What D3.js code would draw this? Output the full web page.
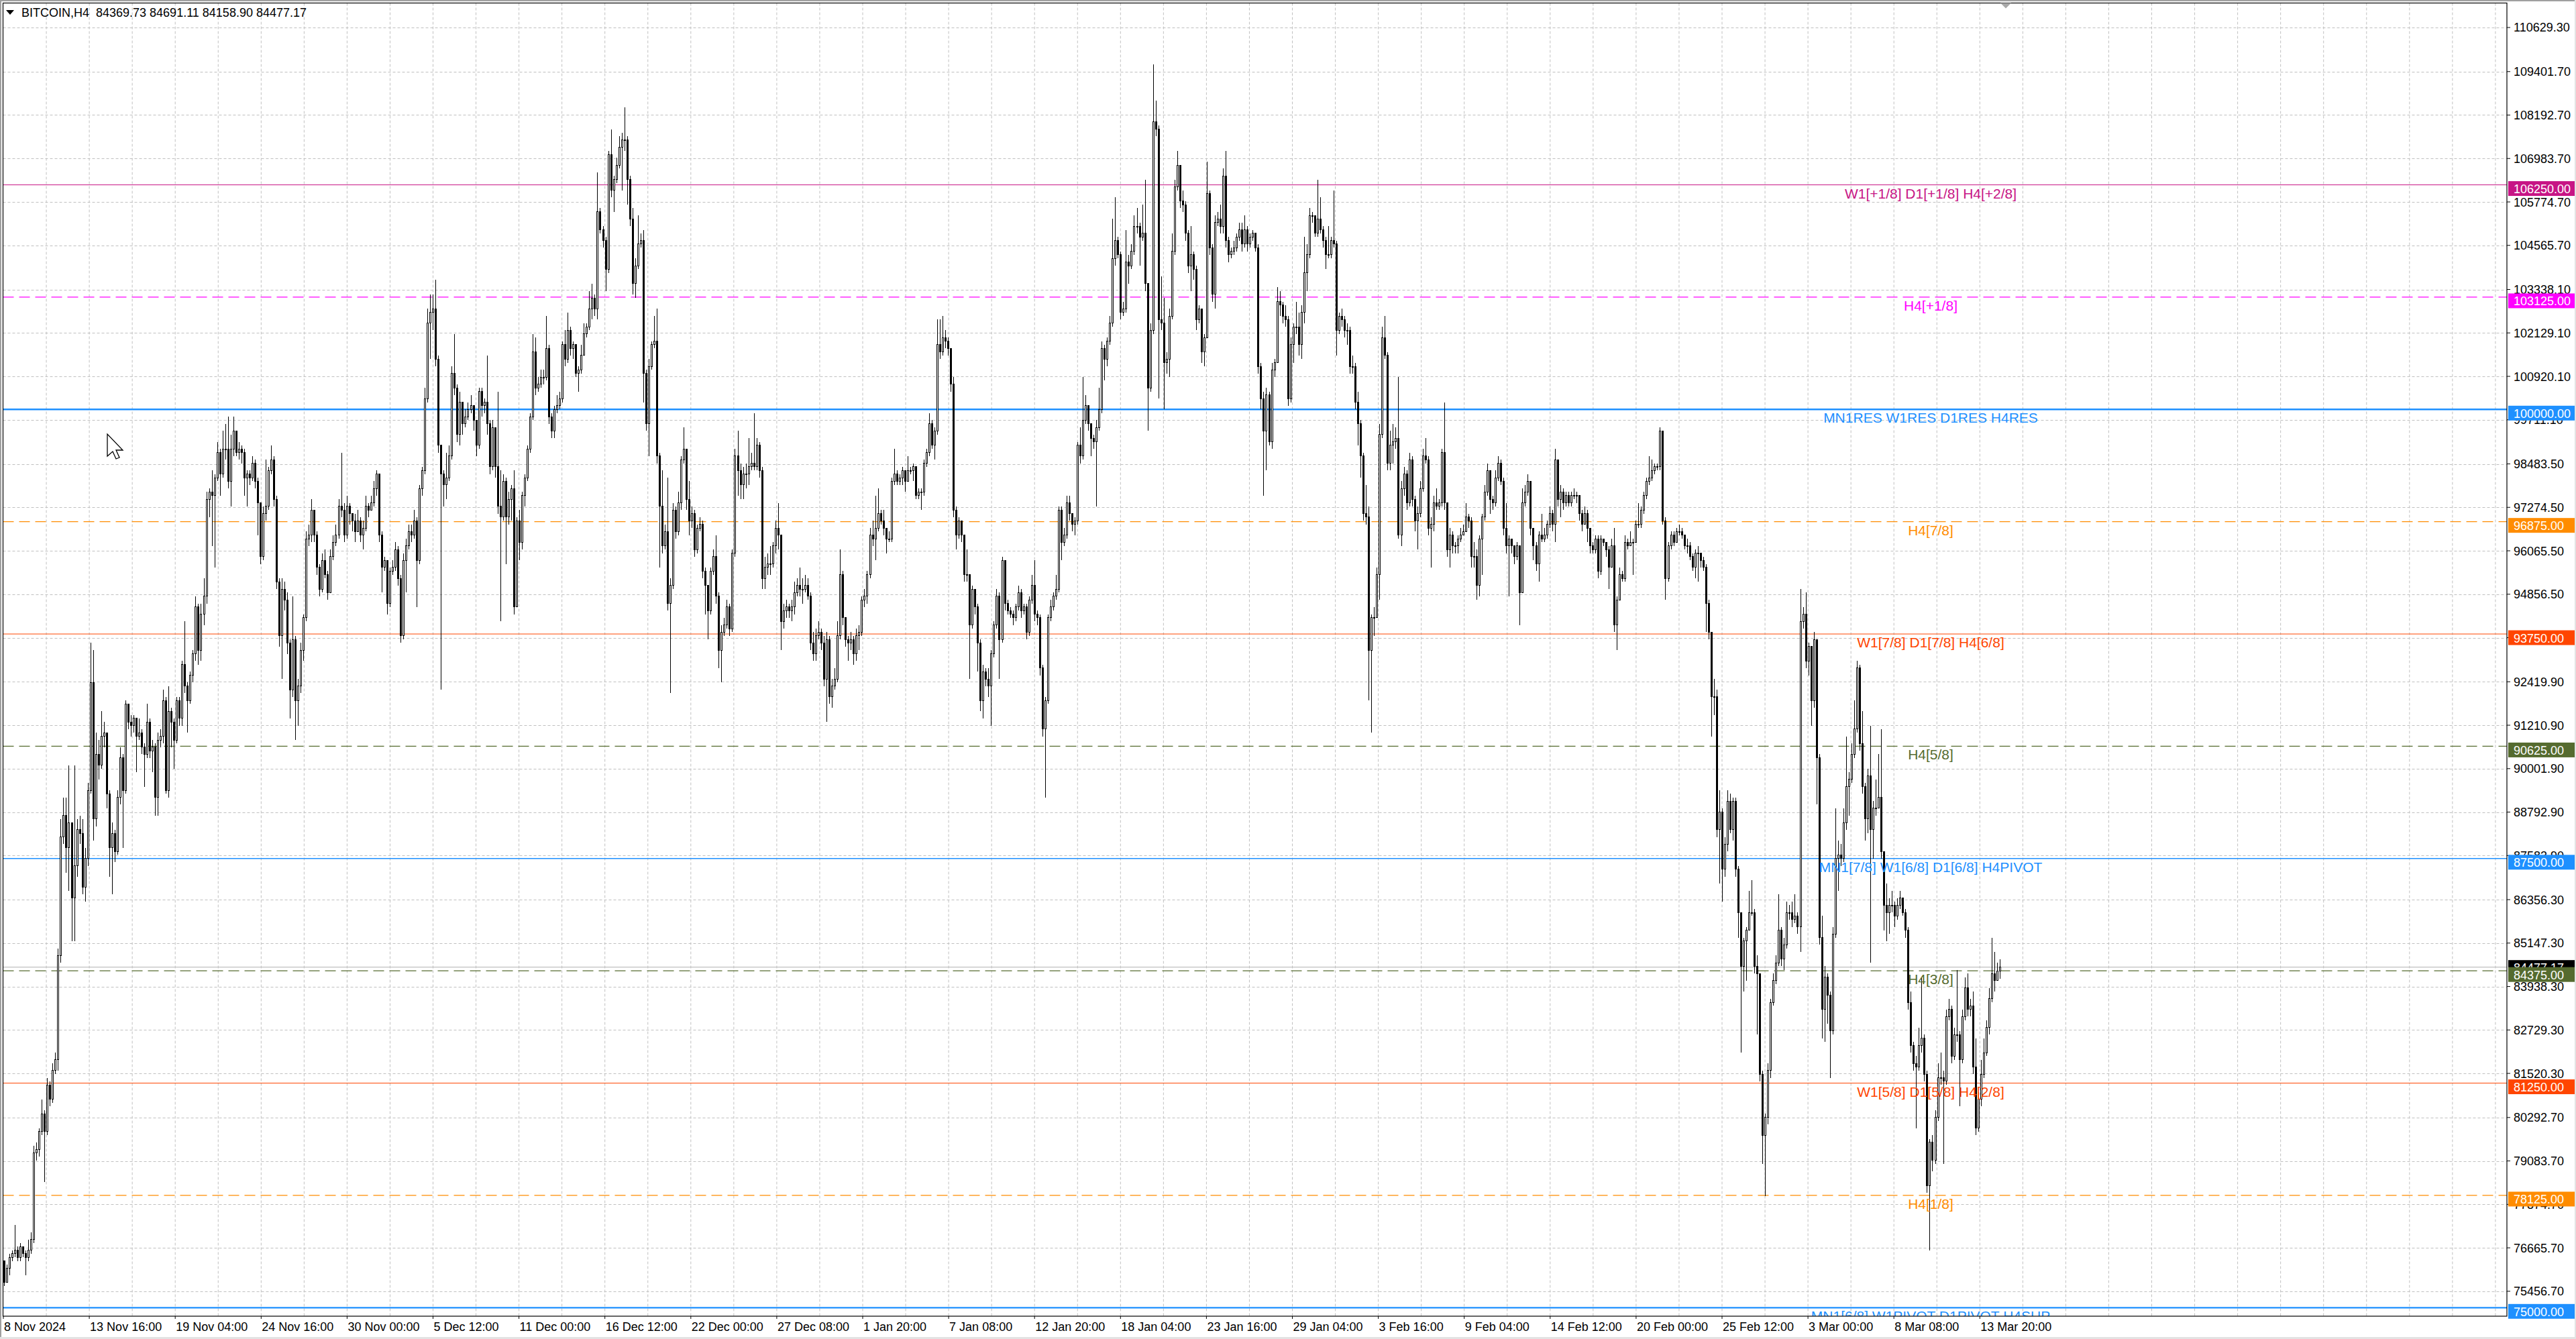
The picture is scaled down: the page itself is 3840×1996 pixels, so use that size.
<!DOCTYPE html>
<html>
<head>
<meta charset="utf-8">
<script src="https://cdn.jsdelivr.net/npm/d3@7"></script>
<style>
  html, body { margin: 0; padding: 0; background: #fff; }
  svg { display: block; }
  text { font-family: "Liberation Sans", Arial, sans-serif; }
</style>
</head>
<body>
<div id="chart"></div>
<script>
// BITCOIN H4 candles, prices in thousands of USD (open = previous close)
var symbol = "BITCOIN,H4";
var firstOpen = 76.3;

var closes = [
  75.7,76.1,76.4,76.5,76.6,76.4,76.7,76.5,76.4,76.6, 76.9,79.3,79.4,79.9,80.4,79.9,81.2,80.8,81.6,81.9,
  84.8,88.1,88.7,87.8,88.5,86.4,87.3,88.3,88.2,86.7, 87.5,89.4,92.4,88.6,90.4,90.1,90.9,91.0,89.3,87.8,
  88.2,87.7,89.2,90.3,89.4,91.8,91.3,91.2,91.4,90.9, 91.0,90.6,90.4,91.3,90.5,90.6,89.2,90.8,90.9,91.9,
  89.4,91.6,91.3,90.8,91.9,91.4,92.9,92.3,91.9,92.6, 93.2,94.5,93.3,94.3,94.8,97.5,97.7,97.6,98.1,98.8,
  98.2,98.9,98.9,98.0,98.9,99.4,98.8,98.9,98.8,98.1, 98.2,98.1,98.5,98.0,97.4,95.9,97.1,97.3,98.3,98.6,
  97.5,95.2,93.7,95.0,94.7,93.5,92.2,93.6,91.9,92.3, 93.3,94.2,96.4,96.5,97.2,96.5,95.6,95.0,95.8,95.4,
  94.9,95.9,96.3,96.5,97.3,97.2,96.5,97.3,97.1,96.9, 96.6,96.9,96.5,96.7,97.3,97.2,97.4,97.8,98.2,96.5,
  95.6,95.8,94.6,95.5,95.6,96.1,95.3,93.7,95.8,96.2, 96.6,96.5,96.9,95.8,97.8,98.3,100.3,
  102.4,102.7,102.8,101.4,99.0,98.2,97.9,98.1,98.7,101.0, 100.6,99.3,100.2,99.6,99.8,100.0,100.1,99.7,99.0,100.5,
  100.1,100.2,99.6,98.4,99.5,98.4,97.3,97.0,98.0,97.0, 97.5,97.8,94.5,96.9,96.3,97.6,98.1,98.9,99.8,101.6,
  100.6,100.7,100.9,100.9,101.7,99.8,99.4,100.0,100.1,100.3, 101.8,101.4,102.2,101.7,101.8,101.0,101.1,101.5,102.1,102.3,
  102.8,103.1,102.8,105.5,105.0,104.7,103.9,107.1,106.1,106.4, 106.8,107.3,107.5,107.5,106.4,105.3,103.5,104.0,104.6,104.7,
  101.0,99.6,101.2,101.8,101.9,98.7,97.3,96.2,96.6,94.6, 95.1,97.2,96.6,97.4,98.6,98.9,97.5,96.9,97.1,96.1,
  96.7,96.8,95.5,95.1,94.4,95.5,95.9,94.8,93.3,93.8, 94.0,94.5,93.9,96.0,98.7,98.3,97.9,98.2,98.2,98.4,
  98.5,98.4,99.0,98.3,95.3,95.6,95.7,95.7,96.2,96.7, 96.5,94.1,94.4,94.5,94.4,94.5,94.9,95.1,95.0,95.0,
  95.1,94.8,93.5,93.2,93.7,93.8,93.5,92.5,93.6,92.0, 92.3,92.5,93.7,95.4,94.2,93.6,93.5,93.6,93.2,93.7,
  93.8,94.7,94.8,95.4,96.5,96.4,96.7,97.1,96.9,96.7, 96.4,96.4,98.0,98.2,98.0,98.1,98.3,98.0,98.3,98.3,
  98.4,97.6,97.7,97.7,98.5,98.8,99.6,99.0,99.4,101.8, 101.6,102.0,101.9,101.7,100.7,97.2,96.5,96.9,96.5,95.4,
  95.4,94.0,95.0,94.5,93.5,91.9,92.7,92.5,92.3,93.2, 94.0,94.8,93.6,95.8,94.6,94.4,94.3,94.2,94.5,94.9,
  94.4,94.5,93.8,94.7,95.1,94.3,94.2,92.8,91.1,91.9, 94.2,94.5,94.8,95.0,97.2,96.3,96.5,97.4,97.1,96.8,
  96.9,99.0,98.7,99.7,100.1,99.6,99.2,99.1,99.5,100.0, 101.7,101.4,101.9,102.4,104.2,104.7,104.3,102.7,102.8,104.1,
  104.0,104.4,105.1,105.1,104.8,104.9,103.5,100.6,102.2,108.0, 107.8,102.5,102.4,101.3,101.4,102.6,104.4,106.2,106.8,105.8,
  105.7,104.9,104.0,104.3,103.9,102.5,102.8,101.6,102.0,106.0, 104.5,103.2,105.2,105.3,105.1,106.5,104.7,104.3,104.4,104.5,
  104.8,105.0,104.6,105.0,104.6,104.8,104.9,104.5,101.2,100.3, 99.4,100.4,99.1,101.1,101.3,103.0,102.9,102.6,102.5,100.3,
  101.8,102.3,102.3,101.8,102.7,103.8,104.3,105.4,105.4,104.9, 105.3,105.0,104.7,104.3,104.3,104.7,104.6,102.2,102.6,102.5,
  102.2,102.2,101.2,101.2,100.2,99.6,98.7,97.1,97.0,93.3, 94.2,94.2,95.4,99.3,102.0,101.5,98.5,99.0,99.1,99.2,
  96.5,97.8,98.2,97.4,98.6,97.5,96.9,97.1,97.8,98.7, 98.6,96.7,96.8,97.4,97.3,97.4,98.8,97.4,96.1,96.5,
  96.2,96.2,96.4,96.5,96.6,97.0,96.9,95.9,95.9,95.1, 96.4,97.0,97.7,98.3,97.5,97.4,98.1,98.5,98.0,96.7,
  96.2,96.4,96.2,95.9,96.2,94.9,97.4,97.7,98.0,96.7, 96.2,95.7,96.5,96.4,96.5,96.8,97.1,96.8,98.6,97.5,
  97.7,97.4,97.6,97.4,97.6,97.6,97.6,97.1,96.8,97.1, 96.7,96.2,96.1,96.4,95.5,96.4,96.3,96.1,95.6,96.2,
  94.0,94.7,95.4,95.3,96.3,96.2,96.3,96.3,96.8,96.8, 97.2,97.6,98.0,98.1,98.3,98.4,98.4,99.4,96.9,95.3,
  96.2,96.5,96.3,96.6,96.6,96.5,96.2,96.2,95.9,95.6, 96.0,96.0,95.8,95.6,94.6,93.8,92.0,92.0,
  88.3,88.8,87.2,87.9,89.1,88.3,89.1,87.2,86.0,84.5, 85.2,85.5,86.0,86.0,84.5,84.3,81.5,79.8,80.3,81.6,
  83.5,84.1,84.6,85.5,84.7,85.1,86.0,86.0,85.8,85.9, 85.6,94.1,94.3,93.0,93.4,91.9,93.6,90.3,85.3,83.3,
  84.2,83.7,82.7,85.4,87.5,87.6,87.5,88.5,89.5,89.7, 90.4,91.1,92.8,90.7,89.5,88.6,89.8,88.3,88.9,88.9,
  89.2,87.7,86.2,86.0,86.2,86.2,85.9,86.2,86.4,86.0, 85.5,83.5,82.3,81.8,81.7,82.3,82.5,81.5,78.4,79.6,
  79.1,80.3,81.4,81.4,81.3,83.1,83.3,82.0,82.6,82.6, 81.9,83.1,83.9,83.3,83.4,81.7,80.0,80.8,81.5,82.1,
  82.8,83.6,84.3,84.1,84.36973,84.47717
];

var highs = [
  76.3,76.2,76.5,76.6,77.3,76.7,76.8,76.7,76.6,76.9, 77.1,79.5,79.6,80.0,80.8,80.5,81.4,81.3,81.8,82.1,
  85.0,88.6,89.2,89.2,90.1,88.2,90.1,88.6,88.7,88.6, 87.8,89.6,93.5,93.3,91.0,90.8,91.6,91.3,91.0,89.4,
  88.5,88.3,89.4,90.6,90.4,91.9,91.7,91.5,91.5,91.2, 91.4,91.1,90.7,91.8,91.4,90.8,90.7,91.0,91.1,92.2,
  92.0,92.3,91.7,91.4,92.0,92.0,93.0,94.1,92.4,92.7, 93.3,94.8,94.6,94.6,95.3,97.7,97.8,98.3,98.2,99.1,
  98.9,99.4,99.6,99.8,99.3,99.8,99.4,99.1,99.0,98.9, 98.3,98.3,98.7,98.6,98.1,97.4,97.3,98.6,98.4,99.0,
  98.7,97.6,95.3,95.3,95.2,94.9,93.6,94.8,93.7,92.5, 93.5,94.3,96.6,96.8,97.5,97.0,96.6,95.7,96.0,96.1,
  95.5,96.1,96.5,96.8,97.5,98.8,97.4,97.6,97.4,97.1, 97.1,97.2,97.0,96.9,97.6,97.4,97.6,98.0,98.3,98.2,
  96.6,95.9,95.8,95.6,95.8,96.3,96.2,95.4,96.0,96.4, 96.8,96.8,97.2,97.0,97.9,98.4,100.6,
  102.8,103.2,103.2,103.6,101.5,99.0,98.3,98.8,99.0,101.2, 102.1,100.7,100.5,100.2,100.0,100.2,100.4,100.1,99.7,100.6,
  100.6,100.3,101.5,99.7,99.7,99.5,100.5,98.3,98.2,98.1, 97.7,97.9,98.3,97.0,97.2,97.7,98.2,99.0,99.9,102.1,
  102.0,100.9,101.1,101.1,102.6,101.8,99.9,100.1,100.4,100.5, 101.9,102.2,102.7,102.3,101.9,101.3,101.2,101.8,102.4,102.4,
  103.3,103.5,103.2,106.6,105.6,105.1,104.8,107.2,107.8,106.5, 107.0,107.6,107.7,108.4,107.6,106.5,105.6,104.2,105.4,104.9,
  105.0,101.1,101.4,101.9,102.6,102.8,98.8,98.3,96.8,98.1, 95.3,97.4,97.3,97.7,98.7,99.5,98.9,98.0,97.3,97.2,
  96.8,97.0,96.9,95.6,95.1,95.6,96.1,96.5,94.9,94.0, 94.2,94.7,94.6,96.1,98.9,99.4,98.5,98.4,98.5,99.2,
  98.8,99.9,99.2,99.1,98.4,95.9,96.0,96.2,96.3,96.9, 97.4,96.5,94.6,94.7,94.6,94.7,95.2,95.3,95.6,95.3,
  95.4,95.3,94.9,93.8,93.9,94.1,93.9,93.7,93.8,93.7, 92.5,92.8,94.1,96.1,95.5,94.2,93.7,93.8,93.7,93.9,
  94.0,94.8,95.0,95.5,96.7,96.9,97.6,97.8,97.2,97.2, 96.7,96.6,98.1,98.9,98.3,98.2,98.4,98.3,98.7,98.4,
  98.5,98.4,97.8,97.8,98.6,98.9,99.9,99.7,99.5,102.5, 102.5,102.6,102.2,102.0,101.7,100.9,97.3,97.0,96.9,96.5,
  96.1,95.4,95.1,95.0,94.6,93.6,92.9,92.8,92.8,93.3, 94.1,95.0,94.9,95.9,95.8,94.7,94.5,94.4,94.6,95.1,
  95.0,94.6,94.6,94.8,95.4,95.8,94.4,94.3,92.9,92.0, 94.3,94.7,94.9,95.4,97.3,97.3,96.7,97.6,97.6,97.1,
  97.0,99.1,99.5,100.9,100.4,100.1,99.6,99.3,99.7,100.6, 101.9,101.8,102.0,102.6,105.3,105.9,104.8,104.4,103.0,105.0,
  104.3,104.6,105.4,105.6,105.2,105.7,106.4,103.2,102.4,109.6, 108.6,107.9,103.7,103.1,101.6,102.8,104.9,106.4,107.2,106.8,
  106.1,105.8,105.0,105.1,104.4,104.0,102.9,102.6,102.1,106.9, 106.1,104.6,105.4,105.5,105.7,106.7,107.2,104.8,104.5,104.7,
  104.9,105.2,105.2,105.4,105.1,104.9,105.0,104.9,104.6,101.3, 100.5,100.6,100.5,101.3,101.4,103.4,103.3,103.0,102.9,102.6,
  102.0,102.4,103.0,102.7,102.9,104.8,104.6,105.6,105.5,105.4, 106.4,105.9,105.1,104.8,105.1,104.8,106.1,104.7,102.7,102.8,
  102.6,102.4,102.3,101.5,101.3,100.5,99.7,98.8,97.9,97.3, 94.3,94.5,95.6,99.6,102.3,102.6,101.6,99.4,99.6,99.5,
  100.9,98.0,98.4,98.3,98.8,98.7,97.6,97.3,98.0,98.9, 99.2,98.7,97.0,97.6,97.8,97.5,98.9,100.2,97.4,96.7,
  96.6,96.3,96.5,96.7,96.8,97.4,97.1,97.0,96.3,96.1, 96.5,97.1,97.9,98.5,98.3,97.6,98.3,98.7,98.6,98.1,
  97.4,96.5,96.4,96.2,96.3,96.2,97.8,97.9,98.2,98.0, 96.7,96.3,96.6,97.1,96.7,96.9,97.3,97.2,98.9,98.6,
  97.9,97.8,97.7,97.7,97.7,97.8,97.7,97.6,97.2,97.3, 97.2,96.7,96.3,96.5,96.5,96.5,96.4,96.3,96.2,96.4,
  96.7,94.8,95.6,95.5,96.5,96.4,96.6,96.4,96.9,97.4, 97.3,97.7,98.1,98.7,98.6,98.5,98.5,99.5,99.4,97.0,
  96.3,96.6,96.6,96.7,96.8,96.7,96.5,96.4,96.3,96.0, 96.1,96.2,96.0,95.9,95.7,94.7,93.7,92.5,
  92.2,89.4,88.9,88.1,89.4,89.3,89.2,89.2,87.3,86.0, 85.3,85.6,86.6,86.9,86.1,84.8,84.3,81.6,80.4,81.8,
  83.6,84.3,84.8,86.5,85.6,85.3,86.3,86.2,86.3,86.5, 86.0,95.0,94.5,94.9,93.5,93.4,93.8,93.6,90.4,85.9,
  84.5,84.3,83.8,85.6,88.9,88.0,87.9,88.9,90.9,89.9, 90.7,91.9,93.0,92.9,91.6,89.6,90.0,91.2,89.1,89.7,
  90.4,91.1,87.7,86.8,86.4,86.6,86.3,86.4,86.6,86.4, 86.1,85.6,83.8,82.4,82.0,82.8,84.2,82.6,81.6,79.7,
  79.8,80.5,81.8,82.1,81.6,83.3,83.6,83.4,82.8,84.4, 82.7,83.3,84.2,84.3,83.6,83.8,82.5,81.0,81.9,82.5,
  83.0,83.9,85.3,84.9,84.6,84.69111
];

var lows = [
  75.6,75.9,75.9,76.3,76.4,76.3,76.3,76.4,75.9,76.3, 76.5,76.8,79.1,79.2,79.8,78.5,79.8,80.6,80.7,81.5,
  81.6,84.6,87.9,87.1,86.6,85.2,85.2,87.0,87.9,86.5, 86.3,87.3,89.3,88.0,88.4,89.7,90.0,90.6,88.9,87.0,
  86.5,87.4,87.6,89.0,87.8,89.3,91.1,90.9,91.0,89.9, 90.8,90.4,89.5,90.3,90.3,89.9,88.7,88.7,90.6,90.7,
  89.3,89.2,90.6,90.0,90.7,91.2,91.2,92.1,91.0,91.8, 92.4,93.0,92.9,93.0,94.0,94.6,97.0,96.2,95.6,98.0,
  97.6,98.1,98.6,97.8,97.3,98.7,98.7,98.6,98.5,97.6, 97.3,97.9,98.0,97.8,96.5,95.7,95.8,96.9,97.2,98.2,
  97.3,95.0,93.4,92.5,94.4,93.2,91.4,92.0,90.8,91.2, 92.1,93.0,94.1,96.2,96.3,96.3,95.4,94.8,94.9,95.3,
  94.7,94.9,95.8,96.2,96.4,97.0,96.3,96.4,96.8,96.6, 96.3,96.6,96.3,96.1,96.6,97.0,97.2,97.3,97.6,96.3,
  94.9,95.5,94.3,94.5,95.4,95.5,95.1,93.5,93.6,94.9, 96.1,96.3,96.4,94.5,95.7,97.6,98.2,
  100.2,101.4,102.2,101.2,98.8,92.2,97.3,97.5,98.0,98.6, 100.4,99.1,99.0,99.3,99.5,99.7,99.9,99.4,98.7,98.9,
  99.8,99.9,99.3,98.2,98.3,98.1,97.1,94.1,96.9,95.7, 96.8,96.9,94.3,94.5,95.8,96.1,97.3,98.0,98.8,99.7,
  100.4,100.5,100.6,100.7,100.8,99.6,99.2,99.2,99.9,100.0, 100.2,101.2,101.3,101.5,101.4,100.9,100.5,101.0,101.6,102.0,
  102.2,102.5,102.6,102.5,104.9,104.5,103.3,103.8,105.9,105.5, 106.3,106.7,106.1,107.2,105.7,105.1,103.2,103.1,103.9,104.5,
  100.2,99.4,98.7,101.1,101.7,98.5,95.6,96.0,96.1,94.4, 92.1,95.0,96.4,96.5,97.2,98.5,97.2,96.5,96.7,95.9,
  96.0,96.6,95.3,94.3,93.6,94.3,95.4,94.6,92.8,92.4, 93.7,93.9,93.7,93.8,95.9,97.6,97.5,97.5,97.8,97.9,
  98.3,98.3,98.3,98.1,95.0,95.0,95.4,95.4,95.6,96.0, 96.1,93.3,93.9,94.2,94.2,94.1,94.3,94.8,94.8,94.6,
  94.9,94.7,93.3,93.0,93.0,93.6,93.3,92.3,91.3,91.8, 91.7,92.2,92.4,93.6,94.0,93.4,93.0,93.3,92.9,93.0,
  93.3,93.7,94.5,94.6,95.3,96.2,95.8,96.6,96.8,96.5, 96.0,96.3,96.3,97.9,97.9,97.9,97.9,97.7,98.0,98.2,
  98.0,97.5,97.5,97.2,97.6,98.4,98.7,98.9,98.6,99.3, 101.4,101.5,101.7,101.5,100.5,97.0,96.1,96.4,96.3,95.2,
  95.2,92.5,93.9,94.3,92.7,91.6,91.4,92.3,92.0,91.2, 93.1,93.9,92.5,93.5,94.4,94.3,94.2,94.0,94.1,94.4,
  94.2,94.3,93.6,93.7,94.6,94.1,94.0,92.6,90.9,89.2, 91.8,94.1,94.4,94.7,94.9,95.8,96.2,96.4,96.9,96.6,
  96.5,96.8,98.5,98.6,99.6,99.4,98.7,98.9,97.3,99.4, 99.9,100.8,101.2,101.8,102.3,104.0,104.2,102.5,102.6,102.7,
  103.5,103.9,104.3,104.9,104.0,104.7,103.3,99.4,100.5,102.1, 107.6,100.3,102.2,100.0,101.0,100.9,102.5,104.3,106.1,105.6,
  105.5,104.7,103.8,103.3,103.6,102.2,102.4,101.3,101.2,102.0, 104.3,103.0,102.8,105.1,104.9,104.9,104.5,104.1,104.2,104.3,
  104.4,104.7,104.4,104.5,104.4,104.5,104.7,104.4,101.0,100.0, 97.6,98.3,99.0,98.9,100.9,101.3,102.6,102.4,102.3,100.1,
  100.2,101.3,102.1,101.5,101.4,102.4,103.3,104.2,105.2,104.8, 104.8,104.9,104.5,103.9,104.2,104.2,104.5,101.5,102.1,102.3,
  102.0,101.8,101.0,101.0,100.0,99.0,98.1,96.9,96.8,91.9, 91.0,93.7,94.3,94.7,99.2,101.4,98.3,98.3,98.5,98.9,
  96.4,96.2,97.6,97.2,97.3,97.3,96.6,96.1,97.0,97.7, 98.5,96.5,95.6,96.6,97.2,97.2,97.3,97.2,95.9,95.6,
  96.0,96.0,96.0,96.3,96.5,96.6,96.7,95.6,95.6,94.7, 94.8,95.4,96.9,97.6,97.1,97.2,97.3,98.0,97.9,96.5,
  96.0,94.8,96.0,95.7,95.8,94.0,94.9,97.3,97.6,96.5, 95.8,95.5,95.2,96.3,96.3,96.4,96.7,96.6,96.3,97.3,
  97.0,97.2,97.3,97.3,97.3,97.5,97.4,96.9,96.6,96.8, 96.3,96.0,96.0,96.0,95.3,95.4,96.2,95.9,95.0,95.7,
  93.8,93.3,94.9,95.2,95.2,96.1,96.2,95.4,96.3,96.7, 96.7,97.1,97.5,97.9,98.0,98.2,98.3,98.3,96.8,94.7,
  95.2,96.1,96.2,96.3,96.5,96.4,96.1,96.0,95.8,95.5, 95.3,95.2,95.6,95.5,93.8,93.6,90.9,91.5,
  88.1,86.8,86.3,87.0,87.7,88.2,88.0,87.0,85.3,82.1, 83.8,84.1,85.6,85.9,84.3,82.6,81.3,79.0,78.1,80.1,
  81.4,83.4,84.0,84.5,84.5,84.4,85.0,85.8,85.6,85.7, 85.4,84.9,93.9,92.8,92.6,91.2,91.7,89.0,85.1,82.5,
  82.4,82.9,81.4,82.6,85.3,86.6,87.3,87.4,88.3,88.7, 89.6,90.3,91.0,90.5,89.3,88.0,88.2,84.6,87.5,88.7,
  88.9,87.5,85.5,85.2,85.4,86.0,85.6,85.8,86.1,85.9, 85.3,83.3,82.1,81.6,80.0,81.6,82.1,81.3,78.2,76.6,
  78.8,79.0,80.2,81.2,79.0,81.2,83.0,81.8,81.9,82.4, 80.6,81.8,83.0,83.1,83.1,81.5,79.8,79.9,80.6,81.4,
  82.0,82.6,83.5,83.8,84.2,84.1589
];

var timeLabels = ["8 Nov 2024", "13 Nov 16:00", "19 Nov 04:00", "24 Nov 16:00", "30 Nov 00:00",
  "5 Dec 12:00", "11 Dec 00:00", "16 Dec 12:00", "22 Dec 00:00", "27 Dec 08:00", "1 Jan 20:00",
  "7 Jan 08:00", "12 Jan 20:00", "18 Jan 04:00", "23 Jan 16:00", "29 Jan 04:00", "3 Feb 16:00",
  "9 Feb 04:00", "14 Feb 12:00", "20 Feb 00:00", "25 Feb 12:00", "3 Mar 00:00", "8 Mar 08:00", "13 Mar 20:00"];

var priceTicks = [110629.30, 109401.70, 108192.70, 106983.70, 105774.70, 104565.70, 103338.10,
  102129.10, 100920.10, 99711.10, 98483.50, 97274.50, 96065.50, 94856.50, 93647.50, 92419.90,
  91210.90, 90001.90, 88792.90, 87583.90, 86356.30, 85147.30, 83938.30, 82729.30, 81520.30,
  80292.70, 79083.70, 77874.70, 76665.70, 75456.70];

// Murrey math levels
var levelPrices = [106250, 103125, 100000, 96875, 93750, 90625, 87500, 84375, 81250, 78125, 75000];
var levelNames = ["W1[+1/8] D1[+1/8] H4[+2/8]", "H4[+1/8]", "MN1RES W1RES D1RES H4RES", "H4[7/8]",
  "W1[7/8] D1[7/8] H4[6/8]", "H4[5/8]", "MN1[7/8] W1[6/8] D1[6/8] H4PIVOT", "H4[3/8]",
  "W1[5/8] D1[5/8] H4[2/8]", "H4[1/8]", "MN1[6/8] W1PIVOT D1PIVOT H4SUP"];
var levelColors = ["#C71585", "#FF00FF", "#1E90FF", "#FF8C00", "#FF4500", "#556B2F",
  "#1E90FF", "#556B2F", "#FF4500", "#FF8C00", "#1E90FF"];
var levelDashed = [false, true, false, true, false, true, false, true, false, true, false];
var levelWidth = [1, 1.3, 2.5, 1.3, 1, 1.3, 1.6, 1.3, 1, 1.3, 2.2];

// ---- build bars ----
var n = Math.min(closes.length, highs.length, lows.length);
var bars = [];
for (var i = 0; i < n; i++) {
  var o = i === 0 ? firstOpen : closes[i - 1];
  var c = closes[i];
  bars.push({
    i: i,
    o: o * 1000,
    c: c * 1000,
    h: Math.max(highs[i], o, c) * 1000,
    l: Math.min(lows[i], o, c) * 1000
  });
}
var last = bars[bars.length - 1];

// ---- layout ----
var W = 3840, H = 1996;
var plotL = 4.5, plotT = 4.5, plotR = 3737, plotB = 1962;
var labelX = 2878;

var svg = d3.select("#chart").append("svg")
  .attr("width", W).attr("height", H);

svg.append("rect").attr("width", W).attr("height", H).attr("fill", "#fff");

var x = d3.scaleLinear().domain([0, bars.length - 1]).range([6, 2981]);
var y = d3.scaleLinear().domain([75000, 100000]).range([1949.3, 610.3]);
var xt = d3.scalePoint().domain(timeLabels).range([5, 5 + 128.1 * (timeLabels.length - 1)]);

svg.append("defs").append("clipPath").attr("id", "plotClip")
  .append("rect").attr("x", plotL).attr("y", plotT)
  .attr("width", plotR - plotL).attr("height", plotB - plotT);

var plot = svg.append("g").attr("clip-path", "url(#plotClip)");

// grid
var gridX = [];
var halfStep = xt.step() / 2;
for (var gx = xt(timeLabels[0]) + halfStep; gx < plotR; gx += halfStep) gridX.push(gx);

plot.append("g").selectAll("line").data(gridX).enter().append("line")
  .attr("x1", function (d) { return d; }).attr("x2", function (d) { return d; })
  .attr("y1", plotT).attr("y2", plotB)
  .attr("stroke", "#c0c0c0").attr("stroke-width", 1).attr("stroke-dasharray", "4,3");

plot.append("g").selectAll("line").data(priceTicks).enter().append("line")
  .attr("x1", plotL).attr("x2", plotR)
  .attr("y1", function (d) { return Math.round(y(d)) + 0.5; })
  .attr("y2", function (d) { return Math.round(y(d)) + 0.5; })
  .attr("stroke", "#c0c0c0").attr("stroke-width", 1).attr("stroke-dasharray", "4,3");

// current price line
plot.append("line")
  .attr("x1", plotL).attr("x2", plotR)
  .attr("y1", y(last.c)).attr("y2", y(last.c))
  .attr("stroke", "#c0c0c0").attr("stroke-width", 1.2);

// level lines + names
var levels = levelPrices.map(function (p, k) {
  return { p: p, name: levelNames[k], color: levelColors[k], dashed: levelDashed[k], w: levelWidth[k] };
});

plot.append("g").selectAll("line").data(levels).enter().append("line")
  .attr("x1", plotL).attr("x2", plotR)
  .attr("y1", function (d) { return y(d.p); }).attr("y2", function (d) { return y(d.p); })
  .attr("stroke", function (d) { return d.color; })
  .attr("stroke-width", function (d) { return d.w; })
  .attr("stroke-dasharray", function (d) { return d.dashed ? "16,8" : null; });

// candles
var candles = plot.append("g").attr("class", "candles").attr("shape-rendering", "crispEdges");

candles.selectAll("line").data(bars).enter().append("line")
  .attr("x1", function (d) { return Math.round(x(d.i)) + 0.5; })
  .attr("x2", function (d) { return Math.round(x(d.i)) + 0.5; })
  .attr("y1", function (d) { return y(d.h); })
  .attr("y2", function (d) { return y(d.l); })
  .attr("stroke", "#000").attr("stroke-width", 1);

candles.selectAll("rect").data(bars).enter().append("rect")
  .attr("x", function (d) { return Math.round(x(d.i)) - 0.5; })
  .attr("width", 2)
  .attr("y", function (d) { return y(Math.max(d.o, d.c)); })
  .attr("height", function (d) { return Math.max(1, Math.abs(y(d.o) - y(d.c))); })
  .attr("fill", function (d) { return d.c >= d.o ? "#fff" : "#000"; })
  .attr("stroke", "#000").attr("stroke-width", 1);

// level names (drawn over candles, clipped to plot)
plot.append("g").selectAll("text").data(levels).enter().append("text")
  .attr("x", labelX)
  .attr("y", function (d) { return y(d.p) + 20; })
  .attr("text-anchor", "middle")
  .attr("font-size", 21)
  .attr("fill", function (d) { return d.color; })
  .text(function (d) { return d.name; });

// mouse cursor left on the chart
plot.append("path")
  .attr("d", "M0,0 L0,33 L8,26 L13,37 L18,35 L13,24 L23,24 Z")
  .attr("transform", "translate(160,647)")
  .attr("fill", "#fff").attr("stroke", "#000").attr("stroke-width", 1.3);

// plot frame
svg.append("rect")
  .attr("x", plotL).attr("y", plotT)
  .attr("width", plotR - plotL).attr("height", plotB - plotT)
  .attr("fill", "none").attr("stroke", "#000").attr("stroke-width", 1.2);

// chart shift marker
var shiftX = x(bars.length - 1) + 9;
svg.append("path")
  .attr("d", "M" + (shiftX - 8) + "," + plotT + " L" + (shiftX + 8) + "," + plotT + " L" + shiftX + "," + (plotT + 8) + " Z")
  .attr("fill", "#a8a8a8");

// price axis
var axisG = svg.append("g");
axisG.selectAll("line").data(priceTicks).enter().append("line")
  .attr("x1", plotR).attr("x2", plotR + 5)
  .attr("y1", function (d) { return y(d); }).attr("y2", function (d) { return y(d); })
  .attr("stroke", "#000").attr("stroke-width", 1);
axisG.selectAll("text").data(priceTicks).enter().append("text")
  .attr("x", plotR + 10)
  .attr("y", function (d) { return y(d) + 6.5; })
  .attr("font-size", 18).attr("fill", "#000")
  .text(function (d) { return d.toFixed(2); });

// current price box
var bid = svg.append("g");
bid.append("rect")
  .attr("x", plotR + 2).attr("y", y(last.c) - 10.5)
  .attr("width", W - plotR - 3).attr("height", 22)
  .attr("fill", "#000");
bid.append("text")
  .attr("x", plotR + 10).attr("y", y(last.c) + 7)
  .attr("font-size", 18).attr("fill", "#fff")
  .text(last.c.toFixed(2));

// level price boxes
var boxes = svg.append("g").selectAll("g").data(levels).enter().append("g");
boxes.append("rect")
  .attr("x", plotR + 2).attr("y", function (d) { return y(d.p) - 5.5; })
  .attr("width", W - plotR - 3).attr("height", 22)
  .attr("fill", function (d) { return d.color; });
boxes.append("text")
  .attr("x", plotR + 10).attr("y", function (d) { return y(d.p) + 12.5; })
  .attr("font-size", 18).attr("fill", "#fff")
  .text(function (d) { return d.p.toFixed(2); });

// time axis
var timeG = svg.append("g");
timeG.selectAll("line").data(timeLabels).enter().append("line")
  .attr("x1", function (d) { return xt(d); }).attr("x2", function (d) { return xt(d); })
  .attr("y1", plotB).attr("y2", plotB + 4)
  .attr("stroke", "#000").attr("stroke-width", 1);
timeG.selectAll("text").data(timeLabels).enter().append("text")
  .attr("x", function (d) { return xt(d) + 1; })
  .attr("y", 1984)
  .attr("font-size", 18).attr("fill", "#000")
  .text(function (d) { return d; });

// title
svg.append("path").attr("d", "M9,15 L21,15 L15,22 Z").attr("fill", "#000");
svg.append("text")
  .attr("x", 32).attr("y", 25)
  .attr("font-size", 18).attr("fill", "#000")
  .style("white-space", "pre")
  .text(symbol + "  " + last.o.toFixed(2) + " " + last.h.toFixed(2) + " " + last.l.toFixed(2) + " " + last.c.toFixed(2));

// window border
svg.append("line").attr("x1", 0).attr("x2", W).attr("y1", 1).attr("y2", 1).attr("stroke", "#a0a0a0").attr("stroke-width", 2);
svg.append("line").attr("x1", 1).attr("x2", 1).attr("y1", 0).attr("y2", H).attr("stroke", "#a0a0a0").attr("stroke-width", 2);
svg.append("line").attr("x1", 0).attr("x2", W).attr("y1", H - 1.5).attr("y2", H - 1.5).attr("stroke", "#e3e3e3").attr("stroke-width", 3);
svg.append("line").attr("x1", W - 1).attr("x2", W - 1).attr("y1", 0).attr("y2", H).attr("stroke", "#e3e3e3").attr("stroke-width", 2);
</script>
</body>
</html>
